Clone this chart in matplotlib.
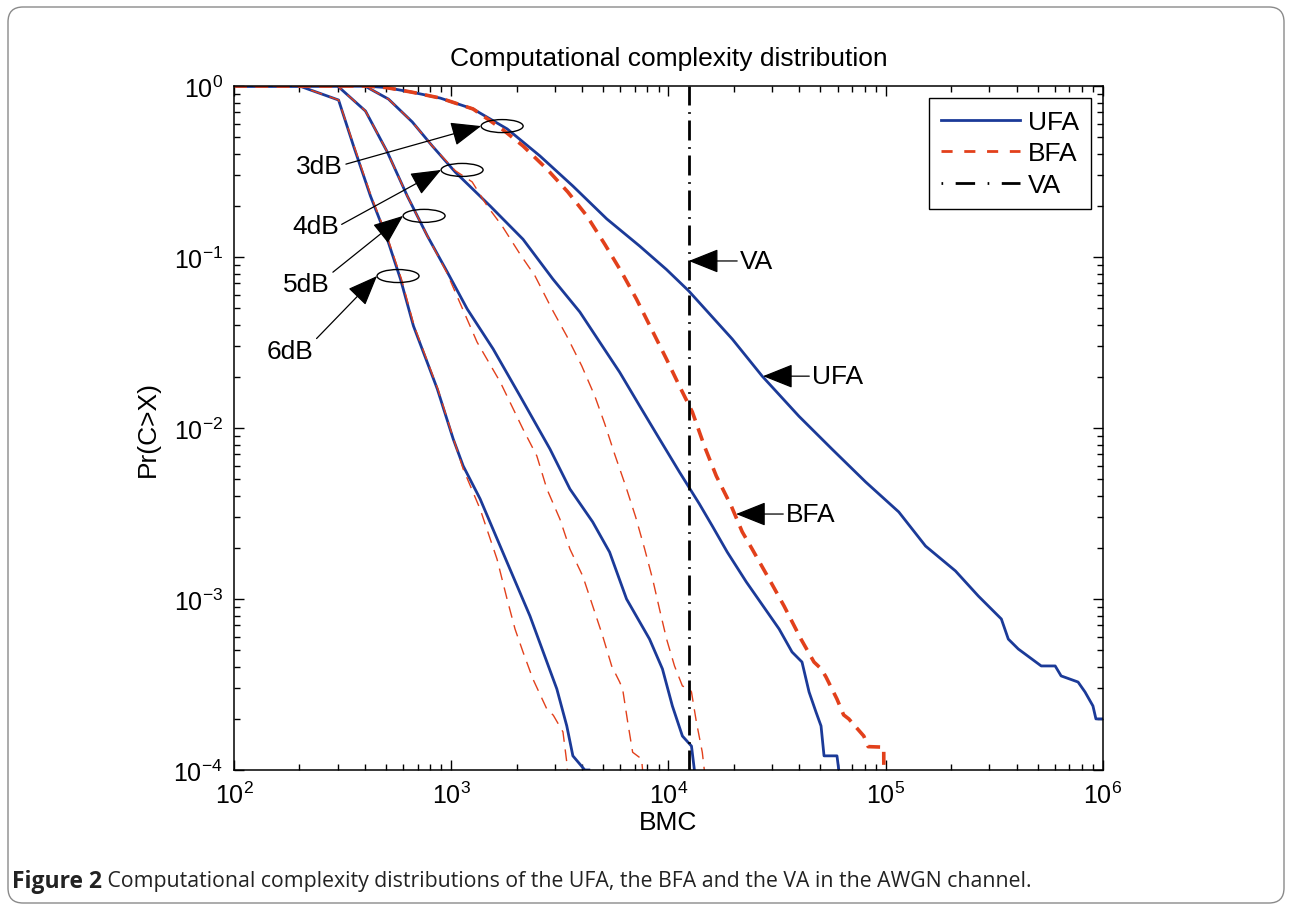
import matplotlib
matplotlib.use("Agg")
import matplotlib.pyplot as plt
from matplotlib.lines import Line2D
from matplotlib.patches import Ellipse, FancyBboxPatch

plt.rcParams["font.family"] = ["Liberation Sans", "DejaVu Sans"]
plt.rcParams["mathtext.default"] = "regular"

BLUE = "#1b3a98"
RED = "#e2401b"

# CCDF of the branch metric computations, per SNR (BMC, Pr(C>X))
ufa_3db_x = [100, 400, 500, 660, 890, 1260, 1810, 2560, 3630, 5200, 7360, 9790, 12400,
             19670, 27000, 39900, 56500, 80900, 114800, 152500, 209300, 267000,
             340600, 366600, 407600, 519600, 602500, 641600, 767800, 826600, 899000,
             928000, 1050000]
ufa_3db_p = [1, 1, 0.98, 0.92, 0.85, 0.734, 0.561, 0.390, 0.260, 0.167, 0.116, 0.0845,
             0.0633, 0.0331, 0.0201, 0.0117, 0.00754, 0.00483, 0.00323, 0.00204,
             0.00146, 0.00104, 0.000764, 0.000583, 0.00051, 0.000406, 0.000406,
             0.000355, 0.000327, 0.000286, 0.000237, 0.000199, 0.000199]

bfa_3db_x = [100, 400, 500, 660, 890, 1260, 1714, 2140, 2756, 3442, 4208, 5086, 6080,
             7120, 8350, 9790, 11230, 12880, 14620, 16600, 19450, 21850, 24270,
             29040, 34040, 40720, 46750, 50500, 53090, 59640, 64000, 67600, 79250,
             83000, 97900, 98000]
bfa_3db_p = [1, 1, 0.98, 0.92, 0.85, 0.734, 0.56, 0.446, 0.327, 0.240, 0.174, 0.119,
             0.0817, 0.0568, 0.0379, 0.0253, 0.0176, 0.0124, 0.00785, 0.00524,
             0.00350, 0.00247, 0.00196, 0.00131, 0.00091, 0.000583, 0.000428,
             0.00039, 0.00035, 0.00026, 0.00021, 0.000199, 0.000158, 0.000137,
             0.000136, 0.0001]

ufa_4db_x = [100, 400, 514, 662, 818, 1043, 1509, 2140, 2937, 3908, 4824, 5960, 7360,
             9090, 11230, 13870, 15920, 18650, 22800, 32300, 37040, 41170, 44370,
             47770, 50370, 52000, 59640, 60800]
ufa_4db_p = [1, 1, 0.839, 0.616, 0.446, 0.314, 0.199, 0.127, 0.0743, 0.0477, 0.0318,
             0.0212, 0.0135, 0.00863, 0.00553, 0.0036, 0.00267, 0.00188, 0.00126,
             0.000668, 0.00049, 0.000428, 0.000286, 0.000218, 0.000181, 0.000121,
             0.000121, 0.0001]

bfa_4db_x = [100, 400, 514, 662, 818, 1043, 1248, 1463, 1714, 2073, 2430, 2905, 3403,
             3987, 4578, 5086, 5650, 6350, 7060, 7770, 8450, 9090, 9800, 10660,
             11590, 12480, 12760, 13440, 14310, 14620]
bfa_4db_p = [1, 1, 0.839, 0.616, 0.446, 0.32, 0.275, 0.199, 0.152, 0.104, 0.0775,
             0.0497, 0.0345, 0.0231, 0.0154, 0.0106, 0.00704, 0.00458, 0.00302,
             0.00196, 0.00131, 0.000874, 0.000583, 0.000406, 0.00031, 0.000298,
             0.000286, 0.000191, 0.000127, 0.0001]

ufa_5db_x = [100, 300, 403, 508, 628, 776, 959, 1184, 1559, 2073, 2847, 3518, 4480,
             5357, 6412, 8180, 9380, 10420, 11590, 12760, 13160]
ufa_5db_p = [1, 1, 0.714, 0.411, 0.227, 0.133, 0.0817, 0.0497, 0.029, 0.0154, 0.00754,
             0.0044, 0.00282, 0.00188, 0.001, 0.000583, 0.00039, 0.000237, 0.000158,
             0.000138, 0.0001]

bfa_5db_x = [100, 300, 403, 508, 628, 776, 950, 1315, 1680, 2138, 2478, 2756, 3162,
             3518, 4033, 4480, 4978, 5476, 5960, 6150, 6490, 6840, 7520, 7600]
bfa_5db_p = [1, 1, 0.714, 0.411, 0.227, 0.133, 0.082, 0.0318, 0.0186, 0.00987,
             0.00686, 0.0044, 0.00294, 0.00196, 0.00136, 0.00091, 0.000608, 0.000406,
             0.000327, 0.000298, 0.000191, 0.000127, 0.000116, 0.0001]

ufa_6db_x = [100, 200, 303, 355, 425, 508, 584, 670, 863, 1021, 1135, 1358, 1807,
             2303, 3062, 3403, 3630, 4120, 4300]
ufa_6db_p = [1, 1, 0.828, 0.446, 0.227, 0.127, 0.0743, 0.0395, 0.0169, 0.00863,
             0.0060, 0.00385, 0.00164, 0.000796, 0.000298, 0.000181, 0.000121,
             0.0001, 0.0001]

bfa_6db_x = [100, 200, 303, 357, 428, 512, 590, 675, 868, 1025, 1135, 1358, 1625,
             1807, 1966, 2140, 2378, 2756, 2950, 3268, 3403, 3420]
bfa_6db_p = [1, 1, 0.828, 0.446, 0.227, 0.127, 0.0743, 0.0395, 0.0169, 0.00863,
             0.00576, 0.00336, 0.00171, 0.001, 0.000668, 0.00049, 0.00034, 0.000227,
             0.000209, 0.000167, 0.000111, 0.0001]

va_bmc = 12400

snr_labels = ["3dB", "4dB", "5dB", "6dB"]
# ellipse centres marking each SNR group, and where the label sits
snr_mark = [(1715, 0.583), (1122, 0.323), (750, 0.174), (569, 0.0774)]
snr_text = [(318, 0.340), (304, 0.152), (277, 0.0695), (233, 0.0282)]
snr_relpos = [(1.0, 0.55), (1.0, 0.5), (1.0, 0.9), (1.0, 0.9)]

fig = plt.figure(figsize=(12.92, 9.12), dpi=100)
ax = fig.add_axes([0.1811, 0.1546, 0.6726, 0.75])
ax.set_xscale("log")
ax.set_yscale("log")
ax.set_xlim(1e2, 1e6)
ax.set_ylim(1e-4, 1)

thin = (0, (8.5, 5.5))
thick = (0, (3.6, 2.3))
for x, p in [(ufa_3db_x, ufa_3db_p), (ufa_4db_x, ufa_4db_p),
             (ufa_5db_x, ufa_5db_p), (ufa_6db_x, ufa_6db_p)]:
    ax.plot(x, p, color=BLUE, lw=2.0, solid_joinstyle="round")
ax.plot(bfa_3db_x, bfa_3db_p, color=RED, lw=2.6, ls=thick)
for x, p in [(bfa_4db_x, bfa_4db_p), (bfa_5db_x, bfa_5db_p), (bfa_6db_x, bfa_6db_p)]:
    ax.plot(x, p, color=RED, lw=1.0, ls=thin)
ax.axvline(va_bmc, color="black", lw=2.0, ls=(0, (7.2, 2.4, 0.6, 2.4)))

ax.tick_params(which="both", direction="in", top=True, right=True, width=1.0,
               labelsize=18, pad=8)
ax.tick_params(which="major", length=7)
ax.tick_params(which="minor", length=4)
for s in ax.spines.values():
    s.set_linewidth(1.1)

ax.set_title("Computational complexity distribution", fontsize=19, pad=15)
ax.set_xlabel("BMC", fontsize=19, labelpad=2)
ax.set_ylabel("Pr(C>X)", fontsize=19, labelpad=10)

arrow = dict(arrowstyle="-|>,head_length=0.95,head_width=0.38", mutation_scale=20,
             color="black", lw=0.9, shrinkA=0, shrinkB=0)


def to_axes(x, y):
    return ax.transAxes.inverted().transform(ax.transData.transform((x, y)))


ew, eh = 42 / 869, 13 / 684
for lab, (mx, my), (tx, ty), rp in zip(snr_labels, snr_mark, snr_text, snr_relpos):
    cx, cy = to_axes(mx, my)
    ax.add_patch(Ellipse((cx, cy), ew, eh, transform=ax.transAxes, fill=False,
                         ec="black", lw=1.0, zorder=5))
    ax.annotate(lab, xy=(cx - ew / 2, cy), xycoords="axes fraction",
                xytext=(tx, ty), textcoords="data", ha="right", va="center",
                fontsize=19, arrowprops=dict(arrow, relpos=rp))

pointers = [("VA", (va_bmc, 0.0948), (21330, 0.0948)),
            ("UFA", (27230, 0.0201), (45800, 0.0201)),
            ("BFA", (20470, 0.00314), (34760, 0.00314))]
for lab, tip, txt in pointers:
    ax.annotate(lab, xy=tip, xytext=txt, ha="left", va="center", fontsize=19,
                arrowprops=dict(arrow, relpos=(0.0, 0.5)))

handles = [Line2D([], [], color=BLUE, lw=2.0),
           Line2D([], [], color=RED, lw=2.0, ls=(0, (4.0, 4.2))),
           Line2D([], [], color="black", lw=2.0, ls=(0, (0.6, 4.5, 7.0, 4.5)))]
leg = ax.legend(handles, ["UFA", "BFA", "VA"], loc="upper right", fontsize=19,
                frameon=True, fancybox=False, edgecolor="black", framealpha=1,
                handlelength=3.0, handletextpad=0.3, labelspacing=0.29,
                borderpad=0.45, borderaxespad=0.45)
leg.get_frame().set_linewidth(1.0)

# rounded frame and caption around the panel
fig.add_artist(FancyBboxPatch((0.08, 0.08), 12.76, 8.96,
                              boxstyle="round,pad=0,rounding_size=0.15",
                              transform=fig.dpi_scale_trans, fill=False,
                              ec="#8a8a8a", lw=1.0))
cap = fig.text(0.0093, 1 - 882 / 912, "Figure 2", fontsize=16.5, weight="bold",
               family=["Open Sans", "DejaVu Sans"], va="center", color="#222222")
ax.annotate(" Computational complexity distributions of the UFA, the BFA and the VA "
            "in the AWGN channel.", xy=(1, 0.5), xycoords=cap, va="center", ha="left",
            fontsize=15.3, family=["Open Sans", "DejaVu Sans"], color="#222222",
            annotation_clip=False)

fig.savefig("out.png", dpi=100)
